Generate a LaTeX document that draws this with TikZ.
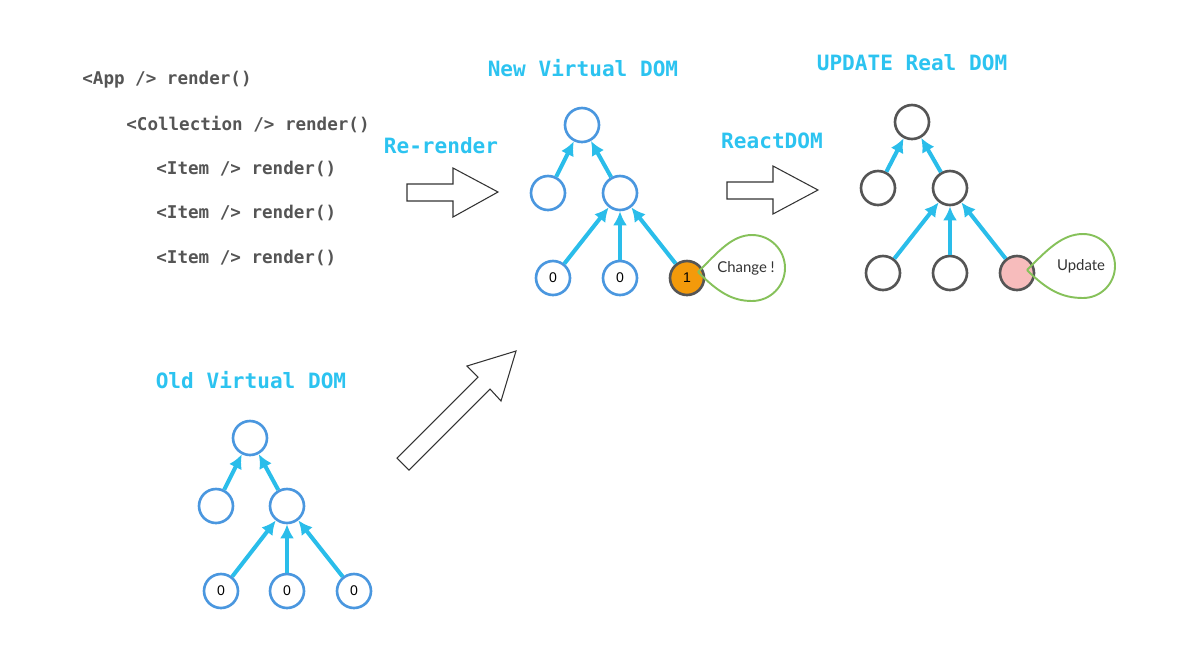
\documentclass[tikz,border=0pt]{standalone}
\usepackage{fontspec}
\setmonofont{DejaVu Sans Mono}
\setsansfont{Lato}
\newfontfamily\digitfont{Liberation Sans}
\usetikzlibrary{arrows.meta}
\definecolor{titlecyan}{HTML}{2CC3F0}
\definecolor{linkcyan}{HTML}{2ABDEA}
\definecolor{vdomblue}{HTML}{4A97DF}
\definecolor{domgray}{HTML}{555555}
\definecolor{codegray}{HTML}{555555}
\definecolor{changeorange}{HTML}{F39A0B}
\definecolor{updatepink}{HTML}{F7BCBC}
\definecolor{bubblegreen}{HTML}{86C15A}
\tikzstyle{vnode}=[circle, draw=vdomblue, line width=1.5pt, fill=white, minimum size=0.68cm, inner sep=0pt, font=\digitfont\footnotesize]
\tikzstyle{rnode}=[vnode, draw=domgray]
\tikzstyle{title}=[font=\ttfamily\bfseries\fontsize{12}{14}\selectfont, text=titlecyan]
\tikzstyle{code}=[anchor=west, inner sep=0pt, font=\ttfamily\bfseries\fontsize{10}{12}\selectfont, text=codegray]
\tikzstyle{link}=[->, line width=2.3pt, color=linkcyan]
\tikzstyle{bubble}=[draw=bubblegreen, line width=1.1pt]
\tikzstyle{bubbletext}=[font=\sffamily\fontsize{8.5}{10}\selectfont, text=black!80]
\tikzstyle{fatarrow}=[draw=black!80, line width=0.6pt, fill=white, line join=miter]

\begin{document}
\begin{tikzpicture}[x=0.02cm,y=-0.02cm,>={Latex[length=8pt,width=8pt]}]
\useasboundingbox (0,0) rectangle (1200,647);

% render calls
\node [code] (app) at (82,80) {<App /> render()};
\node [code] (coll) at (126,125) {<Collection /> render()};
\node [code] (item1) at (156,169) {<Item /> render()};
\node [code] (item2) at (156,213) {<Item /> render()};
\node [code] (item3) at (156,258) {<Item /> render()};

% headings
\node [title] (newtitle) at (583,68) {New Virtual DOM};
\node [title] (realtitle) at (912,63) {UPDATE Real DOM};
\node [title] (oldtitle) at (251,380) {Old Virtual DOM};
\node [title] (rerender) at (441,146) {Re-render};
\node [title] (reactdom) at (772,141) {ReactDOM};

% big arrows
\draw [fatarrow] (407,184) -- (453,184) -- (453,168) -- (498,192) -- (453,217) -- (453,201) -- (407,201) -- cycle;
\draw [fatarrow] (727,182) -- (773,182) -- (773,166) -- (818,190) -- (773,214) -- (773,199) -- (727,199) -- cycle;
\draw [fatarrow] (397,458) -- (478,377) -- (467,366) -- (516,351) -- (501,401) -- (490,389) -- (409,470) -- cycle;

% old virtual dom
\node [vnode] (o0) at (250,438) {};
\node [vnode] (o1) at (216,506) {};
\node [vnode] (o2) at (287,506) {};
\node [vnode] (o3) at (221,591) {0};
\node [vnode] (o4) at (287,591) {0};
\node [vnode] (o5) at (354,591) {0};
\draw [link] (o1) -- (o0);
\draw [link] (o2) -- (o0);
\draw [link] (o3) -- (o2);
\draw [link] (o4) -- (o2);
\draw [link] (o5) -- (o2);

% new virtual dom
\node [vnode] (n0) at (582,125) {};
\node [vnode] (n1) at (548,193) {};
\node [vnode] (n2) at (620,193) {};
\node [vnode] (n3) at (553,278) {0};
\node [vnode] (n4) at (620,278) {0};
\node [vnode,draw=domgray,fill=changeorange] (n5) at (687,278) {1};
\draw [link] (n1) -- (n0);
\draw [link] (n2) -- (n0);
\draw [link] (n3) -- (n2);
\draw [link] (n4) -- (n2);
\draw [link] (n5) -- (n2);
\coordinate (ctip) at (698,272);
\draw [bubble] (ctip) .. controls (718,252) and (732,235) .. (752,235)
  arc [start angle=90, end angle=-90, radius=0.66cm] .. controls (732,301) and (718,292) .. (ctip);
\node [bubbletext] (change) at (746,268) {Change !};

% real dom
\node [rnode] (r0) at (912,122) {};
\node [rnode] (r1) at (878,188) {};
\node [rnode] (r2) at (950,188) {};
\node [rnode] (r3) at (883,273) {};
\node [rnode] (r4) at (950,273) {};
\node [rnode,fill=updatepink] (r5) at (1017,273) {};
\draw [link] (r1) -- (r0);
\draw [link] (r2) -- (r0);
\draw [link] (r3) -- (r2);
\draw [link] (r4) -- (r2);
\draw [link] (r5) -- (r2);
\coordinate (utip) at (1027,270);
\draw [bubble] (utip) .. controls (1047,250) and (1062,234) .. (1083,234)
  arc [start angle=90, end angle=-90, radius=0.64cm] .. controls (1062,298) and (1047,290) .. (utip);
\node [bubbletext] (update) at (1081,266) {Update};
\end{tikzpicture}
\end{document}
